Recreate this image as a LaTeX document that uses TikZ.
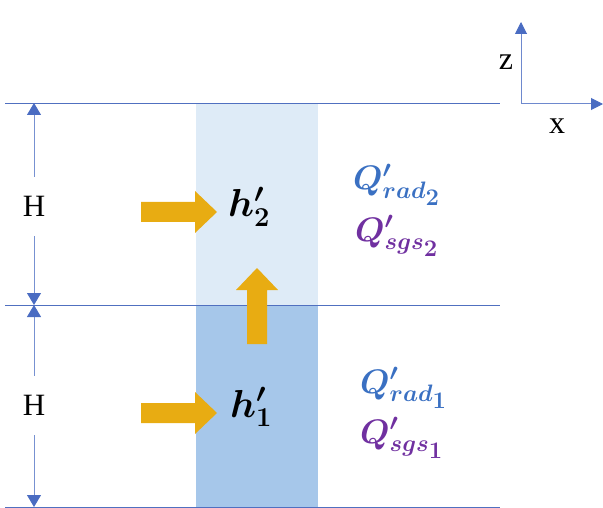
\documentclass[tikz,border=0pt]{standalone}
\usepackage{fix-cm}
\usepackage{amsmath,bm}
\usepackage{fontspec}
\setmainfont{Liberation Serif}
\usetikzlibrary{arrows.meta}
\definecolor{lineblue}{HTML}{5070C0}
\definecolor{dimblue}{HTML}{4A6CC2}
\definecolor{lightcell}{HTML}{DEEBF7}
\definecolor{darkcell}{HTML}{A6C7EA}
\definecolor{gold}{HTML}{E8AC12}
\definecolor{qblue}{HTML}{3A70C2}
\definecolor{qpurple}{HTML}{7030A0}
\tikzset{
  layerline/.style={draw=lineblue, line width=0.9pt},
  dimline/.style={draw=dimblue!75, line width=0.9pt, -{Triangle[length=12pt,width=14pt,fill=dimblue,color=dimblue]}},
  axisline/.style={draw=dimblue!80, line width=1pt, {Triangle[length=12pt,width=12pt,fill=dimblue,color=dimblue]}-{Triangle[length=12pt,width=12pt,fill=dimblue,color=dimblue]}},
  hlabel/.style={font=\fontsize{31}{34}\selectfont, inner sep=0pt, minimum height=59pt, minimum width=22pt},
  axlabel/.style={font=\fontsize{32}{34}\selectfont, inner sep=0pt},
  hsym/.style={font=\fontsize{39}{42}\selectfont, inner sep=0pt, anchor=base west},
  qsym/.style={font=\fontsize{34}{38}\selectfont, inner sep=0pt, anchor=base west},
  blockarrow/.style={fill=gold, draw=none}
}
\begin{document}
\begin{tikzpicture}[x=1pt,y=-1pt]
\useasboundingbox (0,0) rectangle (603,508);
% cells
\fill[lightcell] (196,103) rectangle (318,305);
\fill[darkcell] (196,305) rectangle (318,507);
% layer lines
\coordinate (ta) at (5,103);  \coordinate (tb) at (500,103);
\coordinate (ma) at (5,305);  \coordinate (mb) at (500,305);
\coordinate (ba) at (5,507);  \coordinate (bb) at (500,507);
\draw[layerline] (ta) -- (tb);
\draw[layerline] (ma) -- (mb);
\draw[layerline] (ba) -- (bb);
% dimensions
\coordinate (d1) at (34,103);
\coordinate (d2) at (34,305);
\coordinate (d3) at (34,507);
\node[hlabel] (Hup) at (34,206.5) {H};
\node[hlabel] (Hlo) at (34,405.5) {H};
\draw[dimline] (Hup) -- (d1);
\draw[dimline] (Hup) -- (d2);
\draw[dimline] (Hlo) -- (d2);
\draw[dimline] (Hlo) -- (d3);
% block arrows
\fill[blockarrow] (141,202) -- (195,202) -- (195,191) -- (217,212) -- (195,233) -- (195,222) -- (141,222) -- cycle;
\fill[blockarrow] (141,403) -- (195,403) -- (195,392) -- (217,413) -- (195,434) -- (195,423) -- (141,423) -- cycle;
\fill[blockarrow] (247,344) -- (247,290) -- (236,290) -- (257,268) -- (278,290) -- (267,290) -- (267,344) -- cycle;
% symbols
\node[hsym] (h2) at (228,217) {$\bm{h'_2}$};
\node[hsym] (h1) at (230,417) {$\bm{h'_1}$};
\node[qsym, text=qblue] (qr2) at (353,190) {$\bm{Q'_{rad_{\scriptstyle 2}}}$};
\node[qsym, text=qpurple] (qs2) at (355,241) {$\bm{Q'_{sgs_{\scriptstyle 2}}}$};
\node[qsym, text=qblue] (qr1) at (360,393) {$\bm{Q'_{rad_{\scriptstyle 1}}}$};
\node[qsym, text=qpurple] (qs1) at (360,443) {$\bm{Q'_{sgs_{\scriptstyle 1}}}$};
% axes
\coordinate (zt) at (521,22);
\coordinate (o) at (521,104);
\coordinate (xt) at (603,104);
\draw[axisline] (zt) -- (o) -- (xt);
\node[axlabel] (zl) at (506,62) {z};
\node[axlabel] (xl) at (557,126) {x};
\end{tikzpicture}
\end{document}
